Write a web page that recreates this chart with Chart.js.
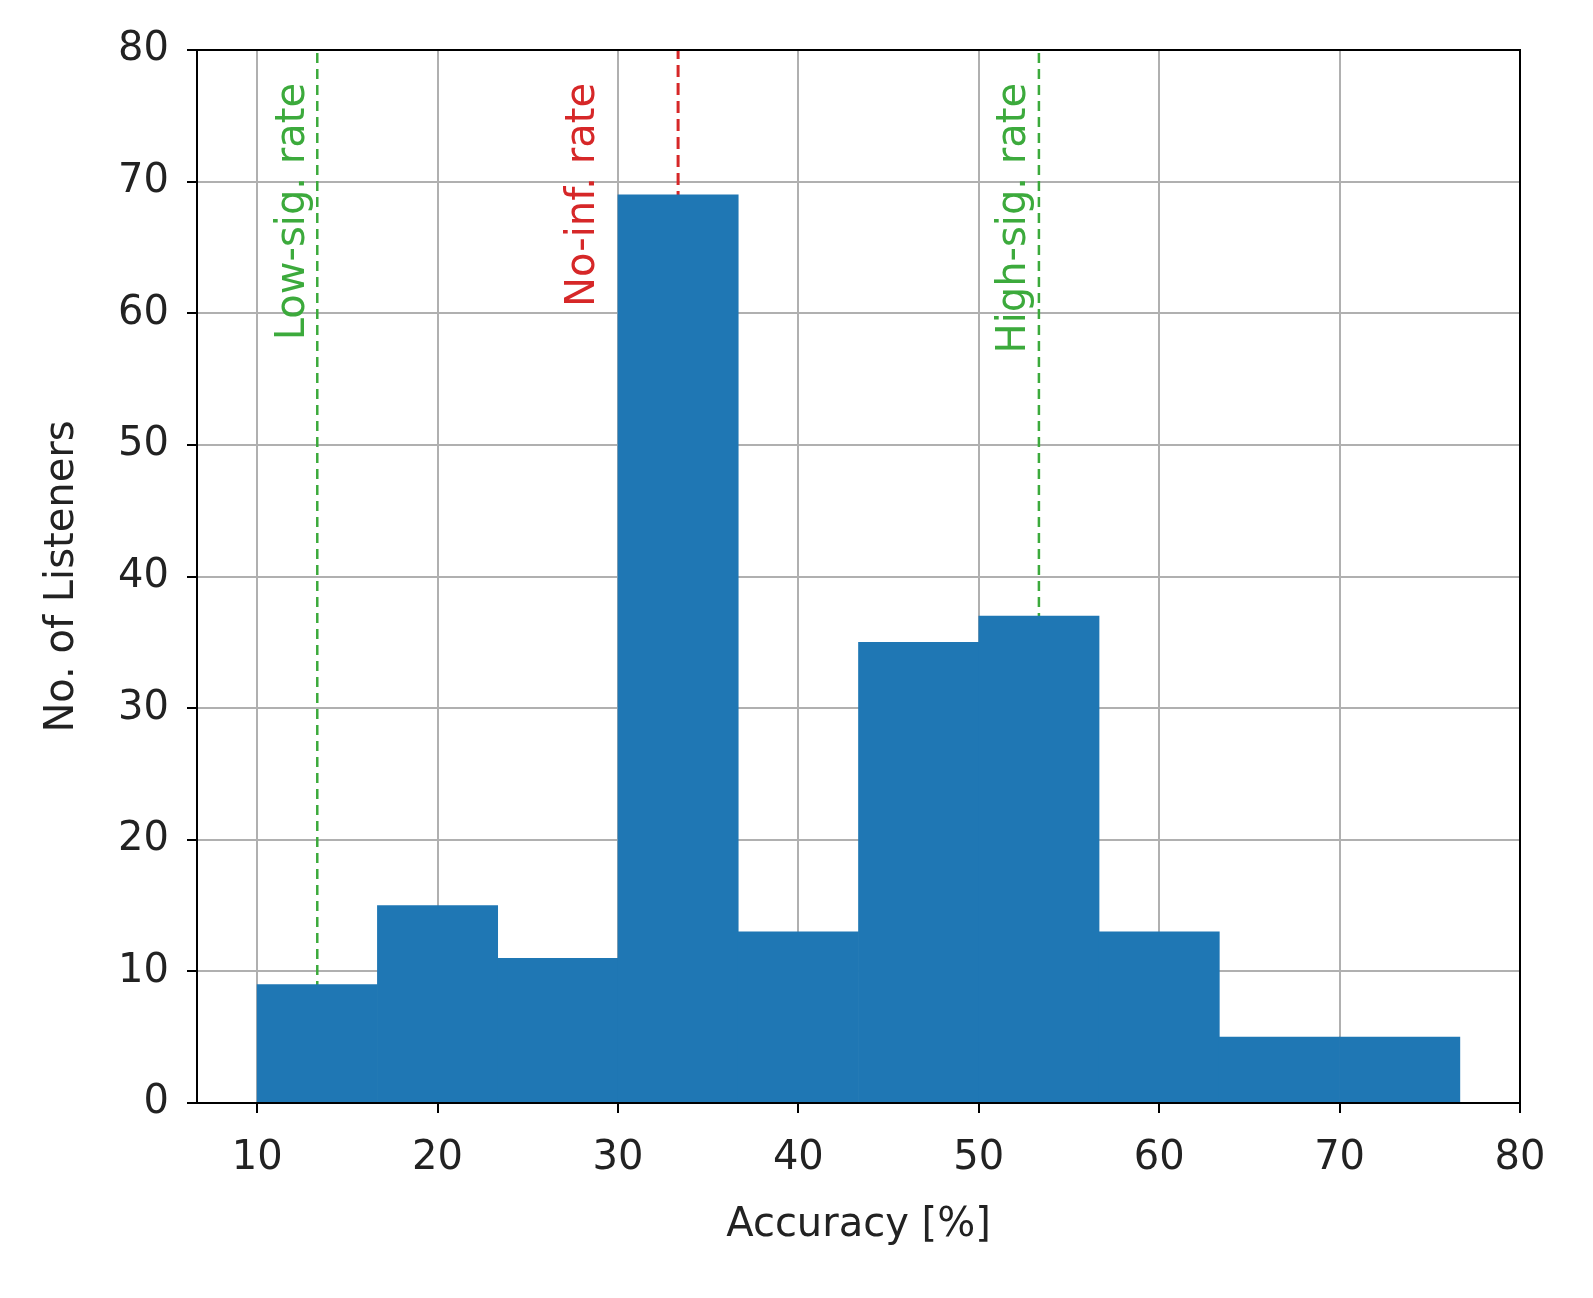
<!DOCTYPE html>
<html>
<head>
<meta charset="utf-8">
<script src="https://cdn.jsdelivr.net/npm/chart.js@4"></script>
<style>
  html, body { margin: 0; padding: 0; background: #fff; }
  #wrap { width: 1593px; height: 1298px; }
</style>
</head>
<body>
<div id="wrap"><canvas id="c"></canvas></div>
<script>
// histogram bins (accuracy %), width 20/3
const binStart = 10;
const binWidth = 20 / 3;
const counts = [9, 15, 11, 69, 13, 35, 37, 13, 5, 5];

// reference lines
const refLines = [
  { x: 40 / 3, label: 'Low-sig. rate', color: '#3caa3c', gap: 4 },
  { x: 100 / 3, label: 'No-inf. rate', color: '#d62728', gap: 74 },
  { x: 160 / 3, label: 'High-sig. rate', color: '#3caa3c', gap: 4 },
];

const xTicks = [10, 20, 30, 40, 50, 60, 70, 80];
const FONT = 'DejaVu Sans';

const barData = counts.map((y, i) => ({ x: binStart + binWidth * (i + 0.5), y }));

const lineSets = refLines.map(r => ({
  type: 'line',
  data: [{ x: r.x, y: 0 }, { x: r.x, y: 80 }],
  borderColor: r.color,
  borderWidth: r.color === '#d62728' ? 3 : 2.5,
  borderDash: r.color === '#d62728' ? [12, 6] : [10, 6],
  pointRadius: 0,
  fill: false,
}));

const labelPlugin = {
  id: 'refLabels',
  afterDatasetsDraw(chart) {
    const { ctx, scales } = chart;
    ctx.save();
    ctx.font = '40px "' + FONT + '"';
    refLines.forEach(r => {
      const px = scales.x.getPixelForValue(r.x);
      const py = scales.y.getPixelForValue(80) + 33;
      ctx.save();
      ctx.translate(px - r.gap, py);
      ctx.rotate(-Math.PI / 2);
      ctx.fillStyle = r.color;
      ctx.textAlign = 'right';
      ctx.textBaseline = 'bottom';
      ctx.fillText(r.label, 0, 0);
      ctx.restore();
    });
    ctx.restore();
  },
};

new Chart(document.getElementById('c'), {
  data: {
    datasets: [
      {
        type: 'bar',
        data: barData,
        backgroundColor: '#1f77b4',
        barPercentage: 1,
        categoryPercentage: 1,
        borderWidth: 0,
      },
      ...lineSets,
    ],
  },
  options: {
    responsive: true,
    maintainAspectRatio: false,
    animation: false,
    layout: { padding: { top: 50, right: 73, left: 35, bottom: 48 } },
    plugins: { legend: { display: false }, tooltip: { enabled: false } },
    scales: {
      x: {
        type: 'linear',
        offset: false,
        min: 20 / 3,
        max: 80,
        afterBuildTicks: (s) => { s.ticks = xTicks.map(v => ({ value: v })); },
        afterFit: (s) => { s.height = 147; },
        grid: { offset: false, color: '#b0b0b0', lineWidth: 2, tickColor: '#000', tickLength: 10, tickWidth: 2 },
        border: { color: '#000', width: 2 },
        ticks: { color: '#222', font: { family: FONT, size: 40 }, padding: 22 },
        title: { display: true, text: 'Accuracy [%]', color: '#222', font: { family: FONT, size: 40 }, padding: { top: 0, bottom: 0 } },
      },
      y: {
        min: 0,
        max: 80,
        ticks: { stepSize: 10, color: '#222', font: { family: FONT, size: 40 }, padding: 18 },
        afterFit: (s) => { s.width = 162; },
        grid: { color: '#b0b0b0', lineWidth: 2, tickColor: '#000', tickLength: 10, tickWidth: 2 },
        border: { color: '#000', width: 2 },
        title: { display: true, text: 'No. of Listeners', color: '#222', font: { family: FONT, size: 40 }, padding: { bottom: 0 } },
      },
    },
  },
  plugins: [labelPlugin, {
    id: 'frame',
    afterDraw(chart) {
      const { ctx, chartArea: a } = chart;
      ctx.save();
      ctx.strokeStyle = '#000';
      ctx.lineWidth = 2;
      ctx.strokeRect(a.left, a.top, a.right - a.left, a.bottom - a.top);
      ctx.restore();
    },
  }],
});
</script>
</body>
</html>
